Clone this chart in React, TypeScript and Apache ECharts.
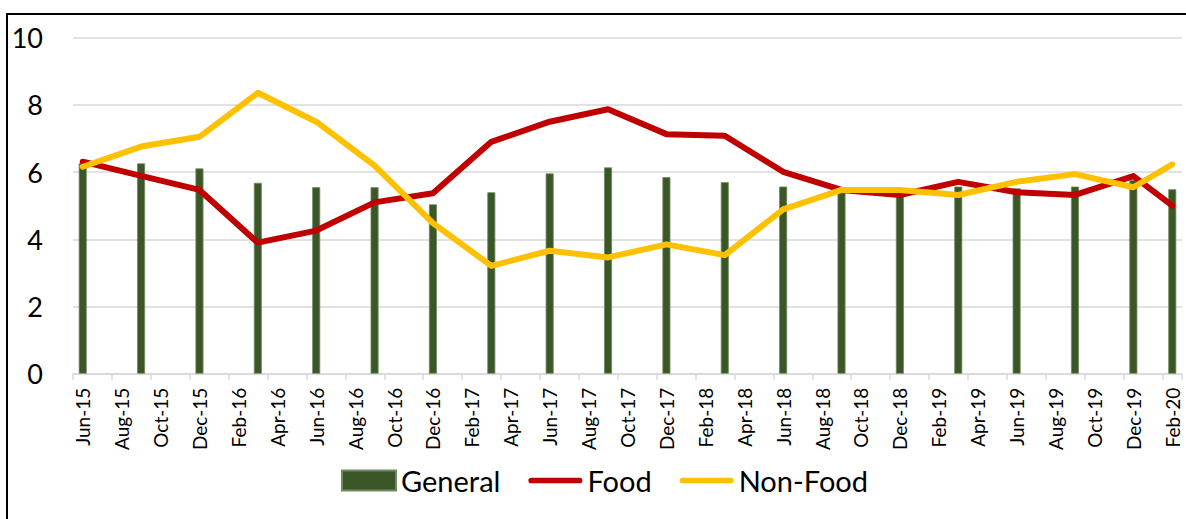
import React, { useEffect, useRef } from "react";
import * as echarts from "echarts";

// Monthly category axis (Excel date axis, base unit = month)
const months: string[] = [
  "Jun-15", "Jul-15", "Aug-15", "Sep-15", "Oct-15", "Nov-15", "Dec-15",
  "Jan-16", "Feb-16", "Mar-16", "Apr-16", "May-16", "Jun-16", "Jul-16", "Aug-16", "Sep-16", "Oct-16", "Nov-16", "Dec-16",
  "Jan-17", "Feb-17", "Mar-17", "Apr-17", "May-17", "Jun-17", "Jul-17", "Aug-17", "Sep-17", "Oct-17", "Nov-17", "Dec-17",
  "Jan-18", "Feb-18", "Mar-18", "Apr-18", "May-18", "Jun-18", "Jul-18", "Aug-18", "Sep-18", "Oct-18", "Nov-18", "Dec-18",
  "Jan-19", "Feb-19", "Mar-19", "Apr-19", "May-19", "Jun-19", "Jul-19", "Aug-19", "Sep-19", "Oct-19", "Nov-19", "Dec-19",
  "Jan-20", "Feb-20",
];

// Observation dates (quarterly + latest)
const obsDates: string[] = [
  "Jun-15", "Sep-15", "Dec-15", "Mar-16", "Jun-16", "Sep-16", "Dec-16", "Mar-17", "Jun-17", "Sep-17",
  "Dec-17", "Mar-18", "Jun-18", "Sep-18", "Dec-18", "Mar-19", "Jun-19", "Sep-19", "Dec-19", "Feb-20",
];

const general: number[] = [
  6.26, 6.26, 6.11, 5.68, 5.55, 5.55, 5.04, 5.4, 5.96, 6.14,
  5.85, 5.7, 5.57, 5.45, 5.35, 5.57, 5.52, 5.57, 5.76, 5.49,
];
const food: number[] = [
  6.31, 5.89, 5.47, 3.9, 4.26, 5.1, 5.37, 6.9, 7.5, 7.87,
  7.13, 7.08, 6.01, 5.47, 5.32, 5.71, 5.4, 5.32, 5.88, 5.0,
];
const nonFood: number[] = [
  6.16, 6.76, 7.05, 8.36, 7.5, 6.19, 4.48, 3.21, 3.66, 3.46,
  3.85, 3.53, 4.89, 5.47, 5.47, 5.32, 5.71, 5.94, 5.55, 6.23,
];

const yTicks = { min: 0, max: 10, interval: 2 };

function toMonthly(values: number[]): (number | null)[] {
  const out: (number | null)[] = months.map(() => null);
  obsDates.forEach((d, i) => {
    const idx = months.indexOf(d);
    if (idx >= 0) out[idx] = values[i];
  });
  return out;
}

const FONT = "Lato, 'Open Sans', sans-serif";
const LINE_ICON = "path://M3,0 L54,0 A3,3 0 0 1 54,6 L3,6 A3,3 0 0 1 3,0 Z";

export default function App() {
  const ref = useRef<HTMLDivElement>(null);
  useEffect(() => {
    if (!ref.current) return;
    const chart = echarts.init(ref.current, undefined, { renderer: "svg" });
    chart.setOption({
      animation: false,
      backgroundColor: "#ffffff",
      textStyle: { fontFamily: FONT },
      graphic: [
        {
          type: "rect",
          shape: { x: 7, y: 14, width: 1200, height: 600 },
          style: { fill: "none", stroke: "#000000", lineWidth: 2 },
          silent: true,
          z: 100,
        },
      ],
      grid: { left: 73, right: 4, top: 37.7, bottom: 145.3, containLabel: false },
      legend: {
        left: 336,
        top: 461,
        itemWidth: 54,
        itemHeight: 20,
        itemGap: 28,
        textStyle: { fontFamily: FONT, fontSize: 29, color: "#000000" },
        data: [
          { name: "General", icon: "rect" },
          { name: "Food", icon: LINE_ICON },
          { name: "Non-Food", icon: LINE_ICON },
        ],
      },
      xAxis: {
        type: "category",
        data: months,
        boundaryGap: true,
        axisLine: { show: true, lineStyle: { color: "#d9d9d9", width: 1.5 } },
        axisTick: { show: true, interval: 1, length: 6, lineStyle: { color: "#d9d9d9", width: 1.5 } },
        axisLabel: {
          interval: 1,
          rotate: 90,
          margin: 14,
          fontFamily: FONT,
          fontSize: 19,
          color: "#000000",
        },
        splitLine: { show: false },
      },
      yAxis: {
        type: "value",
        min: yTicks.min,
        max: yTicks.max,
        interval: yTicks.interval,
        axisLine: { show: false },
        axisTick: { show: false },
        axisLabel: { margin: 30, fontFamily: FONT, fontSize: 27, color: "#000000" },
        splitLine: { show: true, lineStyle: { color: "#d9d9d9", width: 1.5 } },
      },
      series: [
        {
          name: "General",
          type: "bar",
          data: toMonthly(general),
          barWidth: 8,
          itemStyle: { color: "#3b5727", borderColor: "#6f8a60", borderWidth: 0.8 },
        },
        {
          name: "Food",
          type: "line",
          data: toMonthly(food),
          connectNulls: true,
          symbol: "none",
          itemStyle: { color: "#c00000" },
          lineStyle: { color: "#c00000", width: 6, cap: "round", join: "round" },
        },
        {
          name: "Non-Food",
          type: "line",
          data: toMonthly(nonFood),
          connectNulls: true,
          symbol: "none",
          itemStyle: { color: "#ffc000" },
          lineStyle: { color: "#ffc000", width: 6, cap: "round", join: "round" },
        },
      ],
    });
    return () => chart.dispose();
  }, []);
  return (
    <div
      ref={ref}
      style={{ position: "absolute", left: 0, top: 0, width: 1186, height: 519 }}
    />
  );
}
